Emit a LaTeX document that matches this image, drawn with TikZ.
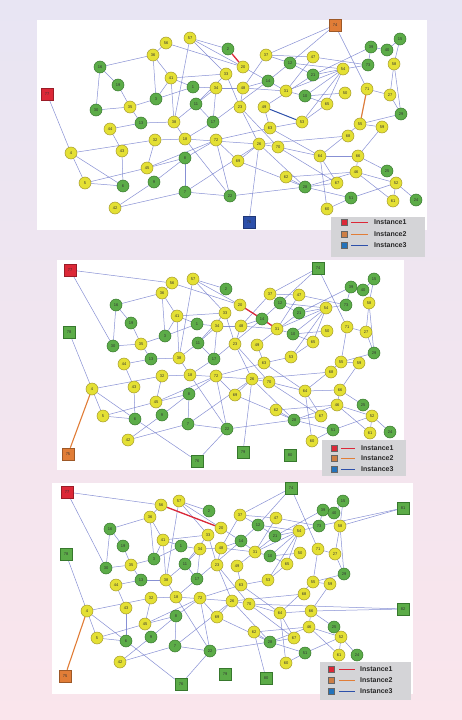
\documentclass[tikz,border=0pt]{standalone}
\usepackage{fontspec}
\setmainfont{Liberation Sans}
\definecolor{bgtop}{RGB}{232,229,243}
\definecolor{bgbot}{RGB}{250,229,236}
\definecolor{yfill}{RGB}{228,224,52}
\definecolor{ydraw}{RGB}{165,155,45}
\definecolor{gfill}{RGB}{92,172,72}
\definecolor{gdraw}{RGB}{55,120,45}
\definecolor{edgec}{RGB}{115,125,205}
\definecolor{redc}{RGB}{220,40,55}
\definecolor{orac}{RGB}{225,125,55}
\definecolor{bluc}{RGB}{45,80,170}
\definecolor{legc}{RGB}{212,212,215}
\pgfdeclarelayer{back}
\pgfdeclarelayer{edges}
\pgfsetlayers{back,edges,main}
\tikzset{
  cust/.style={circle,minimum size=12pt,inner sep=0pt,line width=0.5pt,font=\fontsize{4}{4}\selectfont,text=black!80},
  yc/.style={cust,fill=yfill,draw=ydraw},
  gc/.style={cust,fill=gfill,draw=gdraw},
  depot/.style={rectangle,minimum size=12pt,inner sep=0pt,line width=0.5pt,font=\fontsize{4}{4}\selectfont,text=black!80},
  rdep/.style={depot,fill=redc,draw=redc!70!black},
  odep/.style={depot,fill=orac,draw=orac!70!black},
  bdep/.style={depot,fill=bluc,draw=bluc!70!black},
  gdep/.style={depot,fill=gfill,draw=gdraw},
  link/.style={draw=edgec,line width=0.5pt,opacity=0.85},
  redge/.style={draw=redc,line width=1.3pt},
  oedge/.style={draw=orac,line width=1.1pt},
  dedge/.style={draw=bluc,line width=1pt},
  panel/.style={fill=white,draw=none},
  legbox/.style={fill=legc,draw=none},
  legsq/.style={rectangle,minimum size=6pt,inner sep=0pt,line width=0.4pt,draw=black!60},
  legtxt/.style={anchor=west,font=\fontsize{7}{8}\selectfont\bfseries,inner sep=0pt,text=black!85},
}
\begin{document}
\begin{tikzpicture}[x=1pt,y=-1pt]
\useasboundingbox (0,0) rectangle (462,720);
\begin{pgfonlayer}{back}
  \begin{scope}[y=1pt]
    \shade[top color=bgtop,bottom color=bgbot] (0,-720) rectangle (462,0);
  \end{scope}
  \fill[panel] (37,20) rectangle (427,230);
  \fill[panel] (57,260) rectangle (404,470);
  \fill[panel] (52,483) rectangle (413,694);
  \fill[legbox] (331,217) rectangle (425,257);
  \fill[legbox] (322,440) rectangle (406,476);
  \fill[legbox] (320,662) rectangle (411,700);
\end{pgfonlayer}

% positions panel 1
\foreach \id/\x/\y in {a/166/43, b/190/38, c/228/49, d/153/55, e/100/67, f/226/74, g/171/78, h/118/85, i/193/87, j/216/88, k/96/110, l/130/107, m/156/99, n/196/104, o/141/123, p/174/122, q/213/122, r/110/129, s/155/140, t/185/139, u/216/140, v/71/153, w/122/151, x/147/168, y/185/158, z/85/183, aa/123/186, ab/154/182, ac/185/192, ad/230/196, ae/115/208, af/238/161, ag/243/67, ah/266/55, ai/290/63, aj/313/57, ak/371/47, al/387/50, am/400/39, an/394/64, ao/368/65, ap/313/75, aq/343/69, ar/268/81, as/243/88, at/286/91, au/305/96, av/345/93, aw/367/89, ax/390/95, ay/240/107, az/264/107, ba/327/104, bb/401/114, bc/302/122, bd/270/128, be/360/124, bf/382/127, bg/348/136, bh/259/144, bi/278/147, bj/320/156, bk/358/156, bl/387/171, bm/286/177, bn/356/172, bo/337/183, bp/305/187, bq/396/183, br/351/198, bs/393/201, bt/416/200, bu/327/209}
  {\coordinate (P1\id) at (\x,\y);}
% positions panel 2
\foreach \id/\x/\y in {a/172/283, b/193/279, c/226/289, d/162/293, e/116/305, f/225/313, g/177/316, h/131/323, i/197/324, j/217/326, k/113/346, l/141/344, m/165/336, n/198/343, o/151/359, p/179/358, q/214/359, r/124/364, s/162/376, t/190/375, u/216/376, v/92/389, w/134/387, x/156/402, y/189/394, z/103/416, aa/135/419, ab/162/415, ac/188/424, ad/227/429, ae/128/440, af/235/395, ag/240/305, ah/270/294, ai/280/303, aj/299/295, ak/351/287, al/363/290, am/374/279, an/369/303, ao/346/305, ap/299/313, aq/326/308, ar/262/319, as/241/326, at/277/329, au/293/334, av/327/331, aw/347/327, ax/366/332, ay/235/344, az/257/345, ba/313/342, bb/374/353, bc/291/357, bd/264/363, be/341/362, bf/359/363, bg/331/372, bh/252/379, bi/269/382, bj/305/391, bk/340/390, bl/363/405, bm/276/410, bn/337/405, bo/321/416, bp/294/420, bq/372/416, br/333/430, bs/370/433, bt/390/432, bu/312/441}
  {\coordinate (P2\id) at (\x,\y);}
% positions panel 3
\foreach \id/\x/\y in {a/161/505, b/179/501, c/209/511, d/150/517, e/110/529, f/208/535, g/163/540, h/123/546, i/181/546, j/200/549, k/106/568, l/131/565, m/154/559, n/185/564, o/141/580, p/166/580, q/197/579, r/116/585, s/151/598, t/176/597, u/200/598, v/87/611, w/126/608, x/145/624, y/176/616, z/97/638, aa/126/641, ab/151/637, ac/175/646, ad/210/651, ae/120/662, af/217/617, ag/221/528, ah/240/515, ai/258/525, aj/276/518, ak/323/510, al/334/513, am/343/501, an/340/526, ao/319/526, ap/275/536, aq/299/531, ar/241/541, as/221/548, at/255/552, au/270/556, av/300/553, aw/318/549, ax/335/554, ay/217/565, az/237/566, ba/287/564, bb/344/574, bc/268/580, bd/241/585, be/313/582, bf/330/584, bg/304/594, bh/232/601, bi/249/604, bj/280/613, bk/311/611, bl/334/627, bm/254/632, bn/309/627, bo/294/638, bp/270/642, bq/341/637, br/305/653, bs/339/655, bt/357/655, bu/286/663}
  {\coordinate (P3\id) at (\x,\y);}

% customer nodes (same customers in the three panels)
\foreach \id/\lab/\st in {a/56/yc, b/57/yc, c/2/gc, d/36/yc, e/16/gc, f/33/yc, g/41/yc, h/19/gc, i/1/gc, j/34/yc, k/30/gc, l/35/yc, m/3/gc, n/11/gc, o/13/gc, p/38/yc, q/17/gc, r/44/yc, s/32/yc, t/18/yc, u/72/yc, v/4/yc, w/43/yc, x/45/yc, y/8/gc, z/5/yc, aa/6/gc, ab/9/gc, ac/7/gc, ad/22/gc, ae/42/yc, af/69/yc, ag/20/yc, ah/37/yc, ai/12/gc, aj/47/yc, ak/39/gc, al/40/gc, am/15/gc, an/58/yc, ao/73/gc, ap/21/gc, aq/54/yc, ar/14/gc, as/48/yc, at/31/yc, au/10/gc, av/50/yc, aw/71/yc, ax/27/yc, ay/23/yc, az/49/yc, ba/65/yc, bb/29/gc, bc/53/yc, bd/63/yc, be/55/yc, bf/59/yc, bg/68/yc, bh/26/yc, bi/70/yc, bj/64/yc, bk/66/yc, bl/25/gc, bm/62/yc, bn/46/yc, bo/67/yc, bp/28/gc, bq/52/yc, br/51/gc, bs/61/yc, bt/24/gc, bu/60/yc}
  {\foreach \p in {1,2,3} {\node[\st] (n\p\id) at (P\p\id) {\lab};}}

% depots and square nodes
\node[rdep] (R1) at (47,94) {77};
\node[odep] (O1) at (335,25) {74};
\node[bdep] (B1) at (249,222) {76};
\node[rdep] (R2) at (70,270) {77};
\node[gdep] (S2a) at (69,332) {78};
\node[gdep] (S2b) at (318,268) {74};
\node[odep] (O2) at (68,454) {75};
\node[gdep] (S2c) at (197,461) {76};
\node[gdep] (S2d) at (243,452) {79};
\node[gdep] (S2e) at (290,455) {80};
\node[rdep] (R3) at (67,492) {77};
\node[gdep] (S3a) at (66,554) {78};
\node[gdep] (S3b) at (291,488) {74};
\node[gdep] (S3c) at (403,508) {81};
\node[gdep] (S3d) at (403,609) {82};
\node[odep] (O3) at (65,676) {75};
\node[gdep] (S3e) at (181,684) {76};
\node[gdep] (S3f) at (225,674) {79};
\node[gdep] (S3g) at (266,678) {80};

\begin{pgfonlayer}{edges}
  \foreach \p in {1,2,3} {
    \foreach \s/\t in {v/s, s/t, v/z, v/aa, z/aa, z/x, x/y, w/aa, s/x, ae/ab, ae/ac, ab/y, y/ac, y/u, t/ad, u/ad, u/af, r/o, r/w, a/d, a/ag, b/c, b/f, b/p, b/ag, d/e, d/m, e/h, e/k, h/l, l/k, l/m, l/o, g/f, g/p, m/g, m/i, i/j, n/j, n/f, o/p, p/n, j/q, q/t, f/ay, ag/ar, ah/ai, ar/at, ar/ai, ai/ap, ap/aq, at/au, au/av, aq/at, aq/ba, aq/au, aq/bc, ak/ap, ak/al, al/am, am/an, an/ax, an/bb, aw/ax, ax/bb, aw/be, bb/be, be/bf, as/ay, as/ar, ay/bh, az/bd, bc/bd, bh/bi, ad/bp, bp/bn, bj/bk, bj/bo, bj/bu, bk/bl, bk/bn, bg/bh, bm/bn, bm/bp, bp/bo, bp/br, br/bq, bn/bq, bq/bs, bq/bt, bn/bs, u/bd, aj/at, ah/as, be/bj, bf/bk, ao/aq, ao/ak, bi/bj, af/bh, p/t, ac/ad, ac/bh, x/u, t/bh, ay/bi, az/ap, as/at, bh/bp, bi/bo, af/bp, bd/bj, bc/ba, bu/br, au/ba, ah/aj, aj/ao, ai/aq, q/ar, j/as, n/q, i/g, g/d}
      {\draw[link] (n\p\s) -- (n\p\t);}
  }
  % depot links
  \draw[link] (R1) -- (n1v);
  \draw[link] (O1) -- (n1ah);
  \draw[link] (O1) -- (n1ai);
  \draw[link] (O1) -- (n1aw);
  \draw[link] (B1) -- (n1bh);
  \draw[link] (R2) -- (n2a);
  \draw[link] (R2) -- (n2k);
  \draw[link] (S2a) -- (n2v);
  \draw[link] (S2b) -- (n2ah);
  \draw[link] (S2b) -- (n2ai);
  \draw[link] (S2b) -- (n2aw);
  \draw[link] (S2c) -- (n2aa);
  \draw[link] (S2c) -- (n2ad);
  \draw[link] (S2d) -- (n2bh);
  \draw[link] (R3) -- (n3a);
  \draw[link] (R3) -- (n3k);
  \draw[link] (S3a) -- (n3v);
  \draw[link] (S3b) -- (n3ah);
  \draw[link] (S3b) -- (n3ai);
  \draw[link] (S3b) -- (n3aw);
  \draw[link] (S3c) -- (n3ao);
  \draw[link] (S3c) -- (n3an);
  \draw[link] (S3d) -- (n3bi);
  \draw[link] (S3d) -- (n3bk);
  \draw[link] (S3e) -- (n3aa);
  \draw[link] (S3e) -- (n3ad);
  \draw[link] (S3g) -- (n3bm);
  % highlighted links
  \draw[redge] (n1c) -- (n1ag);
  \draw[oedge] (n1aw) -- (n1be);
  \draw[dedge] (n1az) -- (n1bc);
  \draw[redge] (n2ag) -- (n2ar);
  \draw[redge] (n2ar) -- (n2at);
  \draw[oedge] (O2) -- (n2v);
  \draw[redge] (n3a) -- (n3ag);
  \draw[oedge] (O3) -- (n3v);
\end{pgfonlayer}

% legends
\foreach \p/\sx/\la/\lb/\tx/\ya/\yb/\yc in {1/344/351/368/374/222/234/245, 2/334/341/355/361/448/458/469, 3/331/339/355/360/669/680/691} {
  \node[legsq,fill=redc] (L\p r) at (\sx,\ya) {};
  \node[legsq,fill=orac!80!gray] (L\p o) at (\sx,\yb) {};
  \node[legsq,fill=bluc!80!cyan] (L\p b) at (\sx,\yc) {};
  \coordinate (L\p ra) at (\la,\ya); \coordinate (L\p rb) at (\lb,\ya);
  \coordinate (L\p oa) at (\la,\yb); \coordinate (L\p ob) at (\lb,\yb);
  \coordinate (L\p ba) at (\la,\yc); \coordinate (L\p bb) at (\lb,\yc);
  \draw[redc,line width=1pt] (L\p ra) -- (L\p rb);
  \draw[orac,line width=1pt] (L\p oa) -- (L\p ob);
  \draw[bluc,line width=1pt] (L\p ba) -- (L\p bb);
  \node[legtxt] (L\p rt) at (\tx,\ya) {Instance1};
  \node[legtxt] (L\p ot) at (\tx,\yb) {Instance2};
  \node[legtxt] (L\p bt) at (\tx,\yc) {Instance3};
}
\end{tikzpicture}
\end{document}
